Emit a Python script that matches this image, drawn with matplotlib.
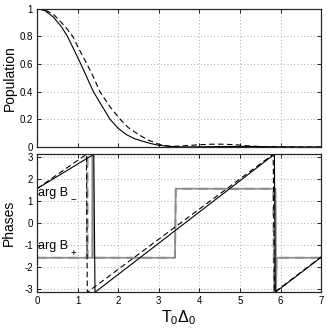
import numpy as np
import matplotlib
matplotlib.use("Agg")
import matplotlib.pyplot as plt

plt.rcParams['font.family'] = ['Liberation Sans', 'DejaVu Sans']
plt.rcParams['mathtext.fontset'] = 'custom'
plt.rcParams['mathtext.rm'] = 'Liberation Sans'
plt.rcParams['mathtext.it'] = 'Liberation Sans:italic'
plt.rcParams['axes.unicode_minus'] = False

PI = np.pi

# ---- Population panel data ----
pop_x_solid = [0, 0.2, 0.4, 0.6, 0.75, 0.9, 1.08, 1.25, 1.39, 1.6, 1.8, 2.0, 2.2, 2.4,
               2.6, 2.8, 3.0, 3.3, 3.6, 4.0, 4.5, 5.0, 5.5, 6.0, 6.5, 7.0]
pop_y_solid = [1.0, 0.985, 0.94, 0.87, 0.80, 0.71, 0.60, 0.49, 0.40, 0.297, 0.20, 0.135,
               0.09, 0.06, 0.042, 0.025, 0.012, 0.003, 0.0, 0.001, 0.003, 0.004, 0.003,
               0.001, 0.0, 0.0]
pop_x_dash = [0, 0.2, 0.4, 0.6, 0.75, 0.88, 1.05, 1.23, 1.4, 1.55, 1.8, 2.05, 2.25, 2.5,
              2.74, 3.0, 3.2, 3.4, 3.7, 4.0, 4.3, 4.6, 4.9, 5.2, 5.5, 6.0, 6.5, 7.0]
pop_y_dash = [1.0, 0.99, 0.96, 0.90, 0.85, 0.80, 0.70, 0.60, 0.50, 0.40, 0.29, 0.20, 0.14,
              0.09, 0.05, 0.02, 0.008, 0.005, 0.01, 0.016, 0.02, 0.02, 0.016, 0.008, 0.003,
              0.001, 0.0, 0.0]

# ---- Phase panel data ----
argBm_x_solid = [0, 1.40, 1.43, 5.85, 5.87, 7.0]
argBm_y_solid = [PI / 2, PI, -PI, PI, -PI, -1.55]
argBm_x_dash = [0, 1.22, 1.24, 5.82, 5.85, 7.0]
argBm_y_dash = [PI / 2, PI, -PI, PI, -PI, -1.53]
argBp_x_solid = [0, 1.36, 1.37, 1.38, 3.40, 3.42, 5.88, 5.89, 5.91, 7.0]
argBp_y_solid = [-PI / 2, -PI / 2, PI, -PI / 2, -PI / 2, PI / 2, PI / 2, -PI, -PI / 2, -PI / 2]
argBp_x_dash = [0, 1.23, 1.24, 1.25, 3.40, 3.42, 5.82, 5.84, 5.86, 7.0]
argBp_y_dash = [-PI / 2, -PI / 2, PI, -PI / 2, -PI / 2, PI / 2, PI / 2, -PI, -PI / 2, -PI / 2]

x_ticks = [0, 1, 2, 3, 4, 5, 6, 7]
pop_ticks = [0, 0.2, 0.4, 0.6, 0.8, 1.0]
pop_tick_labels = ['0', '0.2', '0.4', '0.6', '0.8', '1']
phase_ticks = [-3, -2, -1, 0, 1, 2, 3]

fig = plt.figure(figsize=(3.27, 3.31), dpi=100)
ax1 = fig.add_axes([0.113, 0.556, 0.869, 0.418])
ax2 = fig.add_axes([0.113, 0.117, 0.869, 0.417])

GRAY = '0.55'
for ax in (ax1, ax2):
    ax.set_xlim(0, 7)
    ax.set_xticks(x_ticks)
    ax.grid(True, color='0.55', linestyle=(0, (1, 3)), linewidth=0.6)
    ax.tick_params(direction='in', length=3, width=0.6, labelsize=7, pad=3,
                   top=True, right=True)
    for s in ax.spines.values():
        s.set_linewidth(0.9)
        s.set_color('0.15')

ax1.plot(pop_x_solid, pop_y_solid, color='k', lw=0.8)
ax1.plot(pop_x_dash, pop_y_dash, color='k', lw=0.8, dashes=(5, 3))
ax1.set_ylim(0, 1)
ax1.set_yticks(pop_ticks)
ax1.set_yticklabels(pop_tick_labels)
ax1.tick_params(labelbottom=False)
ax1.set_ylabel('Population', fontsize=10, labelpad=2)

ax2.plot(argBp_x_dash, argBp_y_dash, color=GRAY, lw=1.4, dashes=(5, 3))
ax2.plot(argBp_x_solid, argBp_y_solid, color=GRAY, lw=1.2)
ax2.plot(argBm_x_solid, argBm_y_solid, color='k', lw=0.8)
ax2.plot(argBm_x_dash, argBm_y_dash, color='k', lw=0.8, dashes=(5, 3))
ax2.set_ylim(-PI, PI)
ax2.set_yticks(phase_ticks)
ax2.set_ylabel('Phases', fontsize=10, labelpad=6)
ax2.set_xlabel(r'T$_0$Δ$_0$', fontsize=11.5, labelpad=1)

ax2.text(0.02, 1.38, 'arg B', fontsize=9, va='center', ha='left')
ax2.text(0.82, 1.05, '\u2212', fontsize=7, va='center', ha='left')
ax2.text(0.02, -1.03, 'arg B', fontsize=9, va='center', ha='left')
ax2.text(0.82, -1.36, '+', fontsize=7, va='center', ha='left')

fig.savefig('out.png', dpi=100)
